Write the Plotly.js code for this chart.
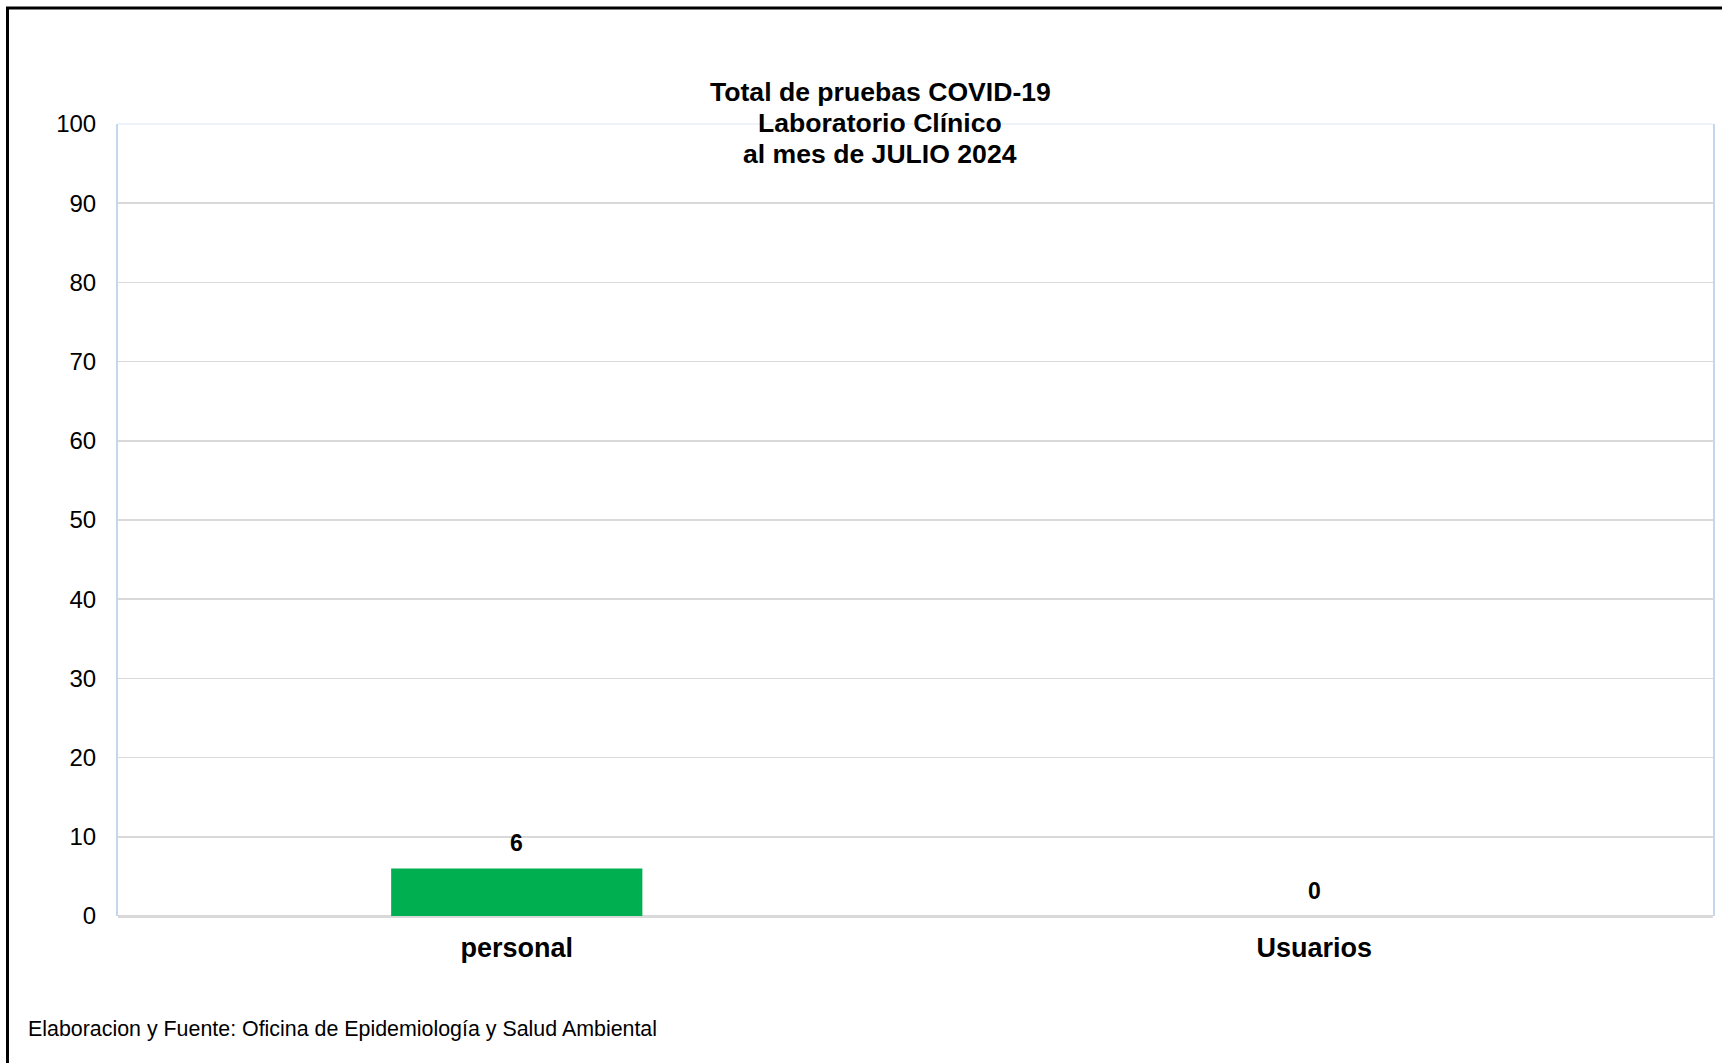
<!DOCTYPE html>
<html>
<head>
<meta charset="utf-8">
<script src="https://cdn.plot.ly/plotly-3.0.1.min.js"></script>
<style>
  html, body { margin: 0; padding: 0; background: #ffffff; }
  #chart { width: 1722px; height: 1063px; }
</style>
</head>
<body>
<div id="chart"></div>
<script>
// ---- data ----
const categories = ['personal', 'Usuarios'];
const values = [6, 0];
const yTicks = [0, 10, 20, 30, 40, 50, 60, 70, 80, 90, 100];
const titleLines = ['Total de pruebas COVID-19', 'Laboratorio Clínico', 'al mes de JULIO 2024'];
const sourceText = 'Elaboracion y Fuente: Oficina de Epidemiología y Salud Ambiental';

// ---- layout geometry (pixels) ----
const PW = 1722, PH = 1063;
const L = 118, R = 1713, T = 124, B = 916;
const W = R - L, H = B - T;
const px = v => (v - L) / W;
const py = v => (B - v) / H;

const FONT = 'Liberation Sans, Arial, sans-serif';

const trace = {
  type: 'bar',
  x: categories,
  y: values,
  marker: { color: '#00b050' },
  hoverinfo: 'x+y'
};

const labelAnns = categories.map((c, i) => ({
  x: c, y: values[i], xref: 'x', yref: 'y',
  text: '<b>' + values[i] + '</b>',
  showarrow: false, yanchor: 'bottom', yshift: 10,
  font: { family: FONT, size: 23, color: '#000' }
}));

// title lines: centres at these pixel rows
const titleRow0 = 92, titleStep = 30.8;
const titleAnns = titleLines.map((t, i) => ({
  xref: 'paper', yref: 'paper', x: px(880), y: py(titleRow0 + i * titleStep),
  xanchor: 'center', yanchor: 'middle', showarrow: false,
  text: '<b>' + t + '</b>',
  font: { family: FONT, size: 26.6, color: '#000' }
}));

const layout = {
  width: PW, height: PH,
  paper_bgcolor: '#ffffff', plot_bgcolor: '#ffffff',
  margin: { l: L, r: PW - R, t: T, b: PH - B, pad: 0 },
  showlegend: false,
  bargap: 0.685,
  title: { text: '' },
  xaxis: {
    type: 'category',
    showgrid: false, zeroline: false, showline: false,
    ticks: '', ticklabelstandoff: 13,
    tickfont: { family: FONT, size: 27, color: '#000', weight: 'bold' },
    fixedrange: true
  },
  yaxis: {
    range: [0, 100],
    tickvals: yTicks,
    ticktext: yTicks.map(String),
    showgrid: true, gridcolor: '#d9d9d9', gridwidth: 1.5,
    zeroline: true, zerolinecolor: '#d9d9d9', zerolinewidth: 3,
    showline: true, linecolor: '#c3d8ee', linewidth: 2, mirror: true,
    ticks: '', ticklabelstandoff: 15,
    tickfont: { family: FONT, size: 24, color: '#000' },
    fixedrange: true
  },
  shapes: [
    // faint top edge of plot area
    { type: 'line', xref: 'paper', yref: 'paper', x0: 0, x1: 1, y0: 1, y1: 1,
      line: { color: '#eef3fa', width: 2 } },
    // outer black frame: left and top
    { type: 'line', xref: 'paper', yref: 'paper', x0: px(7.5), x1: px(7.5), y0: py(7), y1: py(PH),
      line: { color: '#000', width: 3 } },
    { type: 'line', xref: 'paper', yref: 'paper', x0: px(6), x1: px(PW), y0: py(8), y1: py(8),
      line: { color: '#000', width: 3 } }
  ],
  annotations: titleAnns.concat(labelAnns, [
    {
      xref: 'paper', yref: 'paper', x: px(26), y: py(1029),
      xanchor: 'left', yanchor: 'middle', showarrow: false,
      text: sourceText,
      font: { family: FONT, size: 21.4, color: '#000' }
    }
  ])
};

Plotly.newPlot('chart', [trace], layout, { displayModeBar: false, staticPlot: true });
</script>
</body>
</html>
